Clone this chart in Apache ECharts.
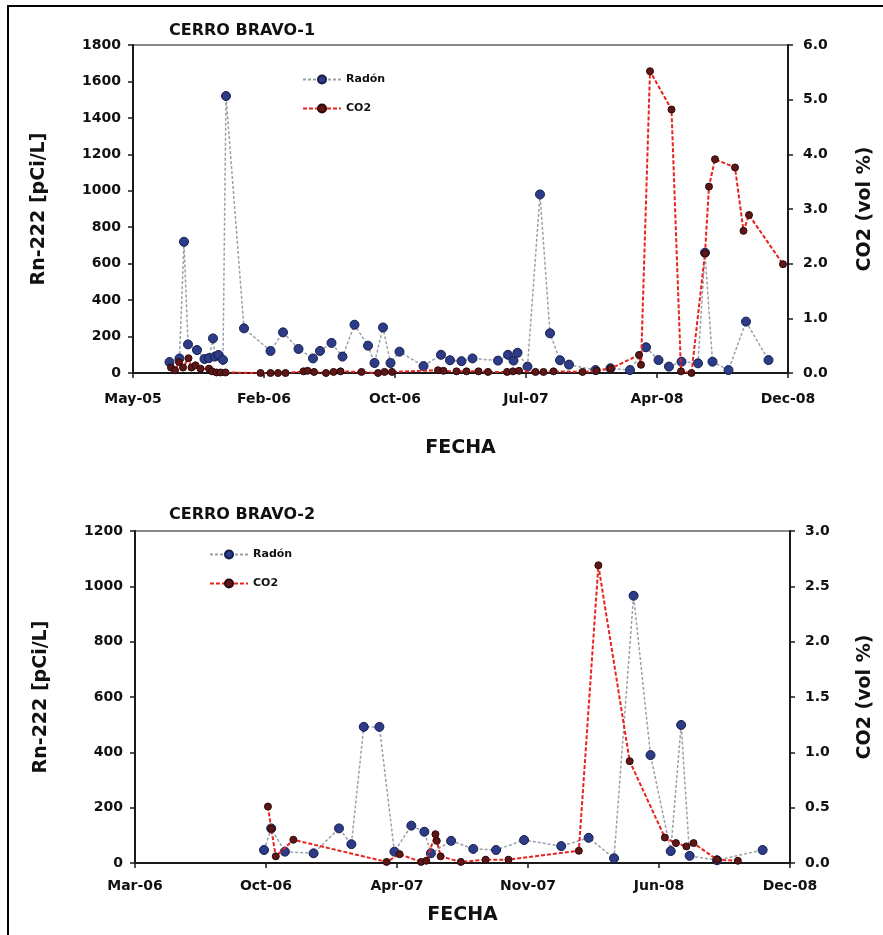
<!DOCTYPE html>
<html>
<head>
<meta charset="utf-8">
<script src="https://cdn.jsdelivr.net/npm/echarts@6/dist/echarts.min.js"></script>
<style>
  html, body { margin: 0; padding: 0; background: #ffffff; }
  #frame { position: absolute; left: 7px; top: 5px; width: 900px; height: 960px;
           border-left: 2px solid #000; border-top: 2px solid #000; }
  #chart { position: absolute; left: 0; top: 0; width: 883px; height: 935px; }
</style>
</head>
<body>
<div id="frame"></div>
<div id="chart"></div>
<script>
// ---- CERRO BRAVO-1: radon (pCi/L) and CO2 (vol %) by sampling date ----
const cb1RadonDates = [
  '2005-08-01','2005-08-21','2005-08-30','2005-09-07','2005-09-25','2005-10-10','2005-10-19',
  '2005-10-27','2005-10-31','2005-11-07','2005-11-16','2005-11-22','2005-12-28','2006-02-19',
  '2006-03-16','2006-04-16','2006-05-15','2006-05-29','2006-06-21','2006-07-13','2006-08-06',
  '2006-09-02','2006-09-15','2006-10-02','2006-10-17','2006-11-04','2006-12-22','2007-01-26',
  '2007-02-13','2007-03-08','2007-03-30','2007-05-20','2007-06-09','2007-06-20','2007-06-28',
  '2007-07-18','2007-08-12','2007-09-01','2007-09-21','2007-10-09','2007-12-01','2007-12-31',
  '2008-02-08','2008-03-11','2008-04-05','2008-04-26','2008-05-21','2008-06-23','2008-07-07',
  '2008-07-22','2008-08-23','2008-09-27','2008-11-11'
];
const cb1RadonValues = [
  60, 80, 720, 157, 126, 77, 82,
  190, 90, 99, 72, 1520, 245, 121,
  223, 132, 80, 121, 165, 90, 265,
  150, 55, 250, 55, 117, 38, 100,
  70, 65, 80, 68, 100, 68, 111,
  35, 980, 218, 70, 46, 16, 26,
  16, 141, 71, 35, 62, 53, 660,
  62, 16, 282, 71
];
const cb1Co2Dates = [
  '2005-08-04','2005-08-12','2005-08-20','2005-08-28','2005-09-08','2005-09-14','2005-09-22',
  '2005-10-02','2005-10-19','2005-10-25','2005-11-03','2005-11-11','2005-11-21','2006-01-30',
  '2006-02-19','2006-03-06','2006-03-21','2006-04-26','2006-05-04','2006-05-17','2006-06-10',
  '2006-06-25','2006-07-09','2006-08-20','2006-09-22','2006-10-05','2006-10-20','2007-01-20',
  '2007-01-31','2007-02-26','2007-03-18','2007-04-11','2007-04-30','2007-06-07','2007-06-19',
  '2007-07-01','2007-08-03','2007-08-19','2007-09-08','2007-11-05','2007-12-03','2007-12-31',
  '2008-02-26','2008-03-01','2008-03-19','2008-05-01','2008-05-20','2008-06-10','2008-07-07',
  '2008-07-15','2008-07-27','2008-09-05','2008-09-22','2008-10-03','2008-12-10'
];
const cb1Co2Values = [
  0.10, 0.05, 0.20, 0.10, 0.27, 0.10, 0.14,
  0.08, 0.08, 0.03, 0.01, 0.01, 0.01, 0.00,
  0.00, 0.00, 0.00, 0.03, 0.04, 0.02, 0.00,
  0.02, 0.03, 0.02, 0.00, 0.02, 0.02, 0.05,
  0.04, 0.03, 0.03, 0.03, 0.02, 0.02, 0.03,
  0.04, 0.02, 0.02, 0.03, 0.02, 0.04, 0.08,
  0.33, 0.15, 5.52, 4.82, 0.03, 0.00, 2.19,
  3.41, 3.91, 3.76, 2.60, 2.89, 1.99
];

// ---- CERRO BRAVO-2 ----
const cb2RadonDates = [
  '2006-10-06','2006-10-17','2006-11-07','2006-12-21','2007-01-29','2007-02-17','2007-03-08',
  '2007-04-01','2007-04-24','2007-05-20','2007-06-09','2007-06-19','2007-07-20','2007-08-23',
  '2007-09-27','2007-11-09','2008-01-05','2008-02-16','2008-03-26','2008-04-25','2008-05-21',
  '2008-06-21','2008-07-07','2008-07-20','2008-08-31','2008-11-09'
];
const cb2RadonValues = [
  47, 125, 41, 35, 125, 68, 492,
  492, 41, 135, 113, 35, 80, 51,
  47, 83, 61, 91, 17, 966, 390,
  43, 499, 26, 10, 47
];
const cb2Co2Dates = [
  '2006-10-12','2006-10-17','2006-10-24','2006-11-20','2007-04-12','2007-05-02','2007-06-04',
  '2007-06-12','2007-06-26','2007-06-28','2007-07-04','2007-08-04','2007-09-11','2007-10-16',
  '2008-02-01','2008-03-02','2008-04-19','2008-06-12','2008-06-29','2008-07-15','2008-07-26',
  '2008-08-31','2008-10-02'
];
const cb2Co2Values = [
  0.51, 0.31, 0.06, 0.21, 0.01, 0.08, 0.01,
  0.02, 0.26, 0.20, 0.06, 0.01, 0.03, 0.03,
  0.11, 2.69, 0.92, 0.23, 0.18, 0.15, 0.18,
  0.03, 0.02
];

// Date axes: first tick date, spacing between ticks (days), number of steps
const cb1AxisStart = '2005-05-20', cb1AxisStep = 262, cb1AxisSteps = 5;
const cb2AxisStart = '2006-03-22', cb2AxisStep = 201, cb2AxisSteps = 5;

// Value axes
const cb1RadonMax = 1800, cb1RadonStep = 200, cb1Co2Max = 6, cb1Co2Step = 1;
const cb2RadonMax = 1200, cb2RadonStep = 200, cb2Co2Max = 3, cb2Co2Step = 0.5;

const MONTHS = ['Jan','Feb','Mar','Apr','May','Jun','Jul','Aug','Sep','Oct','Nov','Dec'];
const DAY_MS = 86400000;
const FONT = '"DejaVu Sans", Verdana, sans-serif';

function utc(s) { const p = s.split('-').map(Number); return Date.UTC(p[0], p[1] - 1, p[2]); }
function dayOffset(s, origin) { return Math.round((utc(s) - utc(origin)) / DAY_MS); }
function pairs(dates, values, origin) { return dates.map((d, i) => [dayOffset(d, origin), values[i]]); }
function monthLabel(origin) {
  return function (v) {
    const t = new Date(utc(origin) + v * DAY_MS);
    return MONTHS[t.getUTCMonth()] + '-' + String(t.getUTCFullYear() % 100).padStart(2, '0');
  };
}

const axisLine = { show: true, lineStyle: { color: '#1a1a1a', width: 2 } };
const axisTick = { show: true, length: 5, lineStyle: { color: '#1a1a1a', width: 1.5 } };
const tickText = { fontFamily: FONT, fontWeight: 'bold', fontSize: 14, color: '#111' };
const nameText = { fontFamily: FONT, fontWeight: 'bold', fontSize: 19, color: '#111' };

function dateAxis(gridIndex, origin, step, steps, labelMargin, nameGap) {
  return {
    type: 'value', gridIndex, min: 0, max: step * steps, interval: step,
    name: 'FECHA', nameLocation: 'middle', nameGap, nameTextStyle: nameText,
    axisLine, axisTick,
    axisLabel: Object.assign({ formatter: monthLabel(origin), margin: labelMargin,
                               showMinLabel: true, showMaxLabel: true }, tickText),
    splitLine: { show: false }
  };
}
function valueAxis(gridIndex, position, max, step, name, nameGap, digits, labelMargin) {
  return {
    type: 'value', gridIndex, position, min: 0, max, interval: step,
    name, nameLocation: 'middle', nameRotate: 90, nameGap, nameTextStyle: nameText,
    axisLine, axisTick,
    axisLabel: Object.assign({ formatter: v => v.toFixed(digits), margin: labelMargin }, tickText),
    splitLine: { show: false }
  };
}
function radonSeries(idx, data) {
  return {
    name: 'Radón', type: 'line', xAxisIndex: idx, yAxisIndex: idx * 2, data,
    symbol: 'circle', symbolSize: 9,
    itemStyle: { color: '#2d3c88', borderColor: '#151c48', borderWidth: 1 },
    lineStyle: { color: '#9aa0aa', width: 1.5, type: [3, 2] },
    z: 2
  };
}
function co2Series(idx, data) {
  return {
    name: 'CO2', type: 'line', xAxisIndex: idx, yAxisIndex: idx * 2 + 1, data,
    symbol: 'circle', symbolSize: 7,
    itemStyle: { color: '#5e1616', borderColor: '#2c0808', borderWidth: 1 },
    lineStyle: { color: '#e8221e', width: 2, type: [4, 2] },
    z: 3
  };
}
function legend(left, top) {
  return {
    left, top, orient: 'vertical', itemWidth: 38, itemHeight: 10, itemGap: 18,
    data: ['Radón', 'CO2'],
    textStyle: { fontFamily: FONT, fontWeight: 'bold', fontSize: 11, color: '#111' }
  };
}
function title(text, left, top) {
  return { text, left, top, textStyle: { fontFamily: FONT, fontWeight: 'bold', fontSize: 16, color: '#111' } };
}

const chart = echarts.init(document.getElementById('chart'), null, { renderer: 'canvas' });
chart.setOption({
  animation: false,
  title: [title('CERRO BRAVO-1', 164, 18), title('CERRO BRAVO-2', 164, 502)],
  legend: [legend(297, 69), legend(204, 544)],
  grid: [
    { left: 133, top: 45, width: 660, height: 328, show: true, borderColor: '#8a8a8a', borderWidth: 2 },
    { left: 135, top: 531, width: 663, height: 332, show: true, borderColor: '#8a8a8a', borderWidth: 2 }
  ],
  xAxis: [
    dateAxis(0, cb1AxisStart, cb1AxisStep, cb1AxisSteps, 19, 66),
    dateAxis(1, cb2AxisStart, cb2AxisStep, cb2AxisSteps, 16, 43)
  ],
  yAxis: [
    valueAxis(0, 'left', cb1RadonMax, cb1RadonStep, 'Rn-222 [pCi/L]', 84, 0, 12),
    valueAxis(0, 'right', cb1Co2Max, cb1Co2Step, 'CO2 (vol %)', 68, 1, 15),
    valueAxis(1, 'left', cb2RadonMax, cb2RadonStep, 'Rn-222 [pCi/L]', 84, 0, 12),
    valueAxis(1, 'right', cb2Co2Max, cb2Co2Step, 'CO2 (vol %)', 66, 1, 15)
  ],
  series: [
    radonSeries(0, pairs(cb1RadonDates, cb1RadonValues, cb1AxisStart)),
    co2Series(0, pairs(cb1Co2Dates, cb1Co2Values, cb1AxisStart)),
    radonSeries(1, pairs(cb2RadonDates, cb2RadonValues, cb2AxisStart)),
    co2Series(1, pairs(cb2Co2Dates, cb2Co2Values, cb2AxisStart))
  ]
});
</script>
</body>
</html>
